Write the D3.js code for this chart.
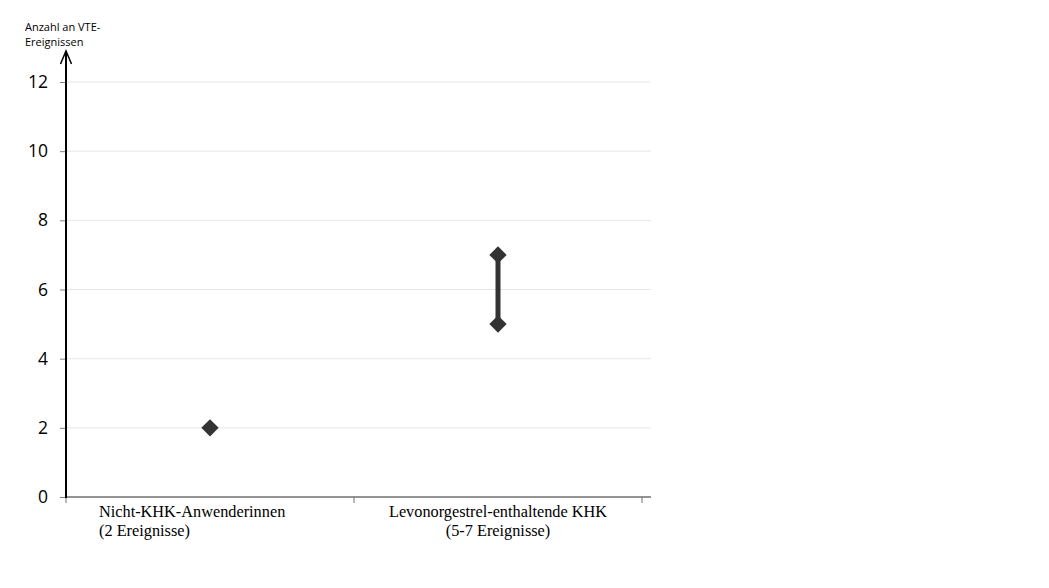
<!DOCTYPE html>
<html><head><meta charset="utf-8">
<script src="https://cdn.jsdelivr.net/npm/d3@7"></script>
<style>body{margin:0;background:#fff}</style>
</head><body>
<svg id="c" width="1049" height="588"></svg>
<script>
const categories = ["Nicht-KHK-Anwenderinnen", "Levonorgestrel-enthaltende KHK"];
const subLabels = ["(2 Ereignisse)", "(5-7 Ereignisse)"];
const lowValues = [2, 5];
const highValues = [2, 7];
const yTicks = [0, 2, 4, 6, 8, 10, 12];
const yTitle = ["Anzahl an VTE-", "Ereignissen"];

const svg = d3.select("#c");
const x0 = 66, xEnd = 642, y0 = 497, y12 = 82;
const x = d3.scaleBand().domain(categories).range([x0, xEnd]);
const y = d3.scaleLinear().domain([0, 12]).range([y0, y12]);

// gridlines
svg.append("g").selectAll("line").data(yTicks.filter(d => d > 0)).join("line")
  .attr("x1", x0).attr("x2", 651).attr("y1", d => y(d)).attr("y2", d => y(d))
  .attr("stroke", "#e6e6e6").attr("stroke-width", 1);

// y axis
const ya = svg.append("g").attr("transform", `translate(${x0},0)`)
  .call(d3.axisLeft(y).tickValues(yTicks).tickSize(6).tickPadding(12));
ya.select(".domain").remove();
ya.selectAll(".tick line").attr("stroke", "#808080");
ya.selectAll(".tick text").attr("font-family", "Open Sans, sans-serif").attr("font-size", 17.5).attr("fill", "#000");

// x axis
const xa = svg.append("g").attr("transform", `translate(0,${y0})`);
xa.append("line").attr("x1", x0).attr("x2", 651).attr("y1", 0).attr("y2", 0)
  .attr("stroke", "#707070").attr("stroke-width", 1.5);
const bounds = [x0].concat(categories.map(c => x(c) + x.bandwidth()));
xa.selectAll("line.t").data(bounds).join("line").attr("class", "t")
  .attr("x1", d => d).attr("x2", d => d).attr("y1", 0).attr("y2", 6)
  .attr("stroke", "#707070").attr("stroke-width", 1);

// y axis line with arrow
svg.append("line").attr("x1", x0).attr("x2", x0).attr("y1", y0 + 1).attr("y2", 51)
  .attr("stroke", "#000").attr("stroke-width", 2);
svg.append("path").attr("d", `M${x0 - 5.5},64 L${x0},51 L${x0 + 5.5},64`)
  .attr("fill", "none").attr("stroke", "#000").attr("stroke-width", 1.5);

// y title
svg.append("text").attr("x", 25).attr("y", 31).attr("font-family", "Open Sans, sans-serif")
  .attr("font-size", 11).attr("fill", "#000")
  .selectAll("tspan").data(yTitle).join("tspan").attr("x", 25).attr("dy", (d, i) => i ? 15 : 0).text(d => d);

// category labels
const lab = svg.append("g").attr("font-family", "Liberation Serif, Times New Roman, serif").attr("font-size", 16.3).attr("fill", "#000");
lab.append("text").attr("x", x0 + 33).attr("y", 517)
  .selectAll("tspan").data([categories[0], subLabels[0]]).join("tspan")
  .attr("x", x0 + 33).attr("dy", (d, i) => i ? 19 : 0).text(d => d);
lab.append("text").attr("x", x(categories[1]) + x.bandwidth() / 2).attr("y", 517).attr("text-anchor", "middle")
  .selectAll("tspan").data([categories[1], subLabels[1]]).join("tspan")
  .attr("x", x(categories[1]) + x.bandwidth() / 2).attr("dy", (d, i) => i ? 19 : 0).text(d => d);

// range bars and points
const g = svg.append("g");
categories.forEach((c, i) => {
  const cx = x(c) + x.bandwidth() / 2;
  if (highValues[i] !== lowValues[i]) {
    g.append("line").attr("x1", cx).attr("x2", cx).attr("y1", y(lowValues[i])).attr("y2", y(highValues[i]))
      .attr("stroke", "#333").attr("stroke-width", 5);
  }
  const vals = highValues[i] !== lowValues[i] ? [lowValues[i], highValues[i]] : [lowValues[i]];
  vals.forEach(v => {
    g.append("path").attr("d", d3.symbol(d3.symbolSquare, 150)())
      .attr("transform", `translate(${cx},${y(v)}) rotate(45)`).attr("fill", "#333");
  });
});
</script>
</body></html>
